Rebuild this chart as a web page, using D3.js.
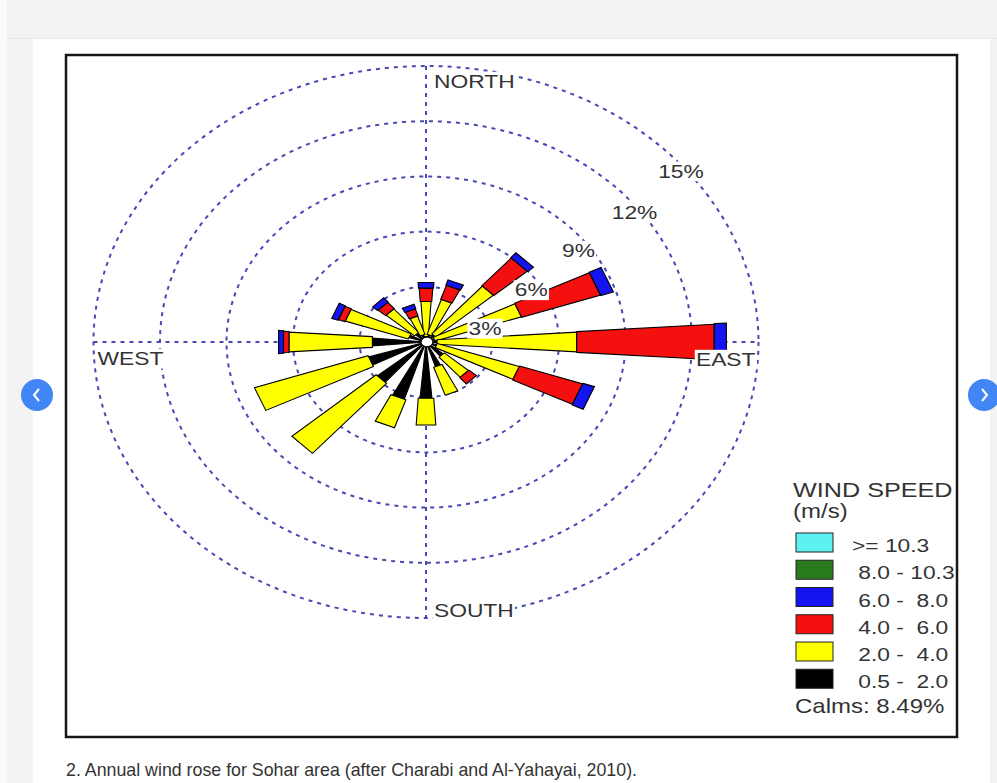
<!DOCTYPE html>
<html lang="en">
<head>
    <title>Annual wind rose - Sohar</title>
    <script src='https://d3js.org/d3.v7.min.js'></script>
    <style>
        body { margin: 0; background: #fff; }
        text { font-family: "Liberation Sans", Arial, sans-serif; white-space: pre; }
    </style>
</head>
<body>
<script>

// 16 compass sectors, clockwise from north
var directions = ["N","NNE","NE","ENE","E","ESE","SE","SSE","S","SSW","SW","WSW","W","WNW","NW","NNW"];

// frequency (%) per sector for each wind speed class (m/s)
var spd05_20  = [0.30, 0.40, 0.50, 0.40, 0.50, 0.50, 1.00, 1.40, 3.06, 3.25, 2.85, 2.70, 2.42, 0.80, 0.60, 0.40];
var spd20_40  = [1.90, 2.00, 3.45, 4.10, 6.30, 3.90, 1.45, 1.60, 1.45, 1.60, 5.05, 5.40, 3.76, 3.00, 1.70, 1.05];
var spd40_60  = [0.73, 0.80, 2.00, 3.75, 6.20, 3.00, 0.45, 0.00, 0.00, 0.00, 0.00, 0.00, 0.25, 0.32, 0.45, 0.40];
var spd60_80  = [0.30, 0.30, 0.35, 0.60, 0.55, 0.55, 0.00, 0.00, 0.00, 0.00, 0.00, 0.00, 0.22, 0.30, 0.30, 0.25];
var spd80_103 = [0, 0, 0, 0, 0, 0, 0, 0, 0, 0, 0, 0, 0, 0, 0, 0];
var spd103up  = [0, 0, 0, 0, 0, 0, 0, 0, 0, 0, 0, 0, 0, 0, 0, 0];

var classLabels = [" 0.5 -  2.0", " 2.0 -  4.0", " 4.0 -  6.0", " 6.0 -  8.0", " 8.0 - 10.3", ">= 10.3"];
var classColors = ["#000000", "#ffff00", "#f51010", "#1414f0", "#2a7a1e", "#5cf2f2"];

var ringTicks = [3, 6, 9, 12, 15];
var calms = 8.49;

// ---------------------------------------------------------------
const W = 997, H = 783;
const cx = 426, cy = 342;

const svg = d3.select("body").append("svg")
    .attr("width", W).attr("height", H);

// page furniture
svg.append("rect").attr("x", 0).attr("y", 0).attr("width", W).attr("height", H).attr("fill", "#fafafa");
svg.append("rect").attr("x", 7).attr("y", 0).attr("width", W - 7).attr("height", 38).attr("fill", "#f2f2f2");
svg.append("rect").attr("x", 7).attr("y", 38).attr("width", 26).attr("height", H - 38).attr("fill", "#f3f3f3");
svg.append("rect").attr("x", 990).attr("y", 38).attr("width", 7).attr("height", H - 38).attr("fill", "#f3f3f3");
svg.append("rect").attr("x", 33).attr("y", 39).attr("width", 957).attr("height", H - 39).attr("fill", "#ffffff");
svg.append("line").attr("x1", 7).attr("x2", W).attr("y1", 38.5).attr("y2", 38.5).attr("stroke", "#e8e8e8");

// chart frame
svg.append("rect").attr("x", 66).attr("y", 55).attr("width", 891).attr("height", 682)
    .attr("fill", "#fff").attr("stroke", "#161616").attr("stroke-width", 2.5);

// the picture is stretched horizontally, so x and y get their own radial scale
const rX = d3.scaleLinear().domain([0, 15]).range([0, 332.5]);
const rY = d3.scaleLinear().domain([0, 15]).range([0, 276]);

// r along the petal axis, w across it, angle in degrees clockwise from north
function pt(r, w, deg) {
    const a = deg * Math.PI / 180;
    const lx = r * Math.sin(a) + w * Math.cos(a);
    const ly = r * Math.cos(a) - w * Math.sin(a);
    return [cx + rX(lx), cy - rY(ly)];
}

const ringColor = "#4848b4";
const g = svg.append("g");

// dotted rings
g.selectAll(".ring").data(ringTicks).enter().append("ellipse")
    .attr("cx", cx).attr("cy", cy)
    .attr("rx", d => rX(d)).attr("ry", d => rY(d))
    .attr("fill", "none").attr("stroke", ringColor)
    .attr("stroke-width", 2).attr("stroke-dasharray", "4,5");

// cross hair
const rMax = d3.max(ringTicks);
g.append("line").attr("x1", cx - rX(rMax)).attr("x2", cx + rX(rMax)).attr("y1", cy).attr("y2", cy)
    .attr("stroke", ringColor).attr("stroke-width", 2).attr("stroke-dasharray", "4,5");
g.append("line").attr("x1", cx).attr("x2", cx).attr("y1", cy - rY(rMax)).attr("y2", cy + rY(rMax))
    .attr("stroke", ringColor).attr("stroke-width", 2).attr("stroke-dasharray", "4,5");

// stack the classes per sector
var rows = directions.map(function(d, i) {
    return { dir: d, c0: spd05_20[i], c1: spd20_40[i], c2: spd40_60[i], c3: spd60_80[i], c4: spd80_103[i], c5: spd103up[i] };
});
var keys = ["c0", "c1", "c2", "c3", "c4", "c5"];
var stacked = d3.stack().keys(keys)(rows);
var angle = d3.scaleBand().domain(directions).range([0, 360]);

var line = d3.line();
var petals = [];
directions.forEach(function(dir, i) {
    var deg = angle(dir);
    var hw = 0;
    keys.forEach(function(k, j) {
        var lo = stacked[j][i][0], hi = stacked[j][i][1];
        if (hi - lo <= 0) return;
        var slope = j === 0 ? 0.088 : 0.065;
        var step = j === 0 ? 0 : (j === 1 ? 0.08 : 0.03);
        var wIn = hw + step;
        var wOut = wIn + (hi - lo) * slope;
        hw = wOut;
        petals.push({ j: j, pts: [pt(lo, -wIn, deg), pt(hi, -wOut, deg), pt(hi, wOut, deg), pt(lo, wIn, deg)] });
    });
});

g.selectAll(".seg").data(petals).enter().append("path")
    .attr("class", "seg")
    .attr("d", d => line(d.pts) + "Z")
    .attr("fill", d => classColors[d.j])
    .attr("stroke", "#000").attr("stroke-width", 1.1).attr("stroke-linejoin", "miter");

// calm circle
g.append("ellipse").attr("cx", cx + 1).attr("cy", cy)
    .attr("rx", rX(0.27)).attr("ry", rY(0.27))
    .attr("fill", "#fff").attr("stroke", "#000").attr("stroke-width", 1.2);

// labels with white boxes, text stretched like the picture
function boxedLabel(x, y, txt, size, anchor) {
    var lg = svg.append("g").attr("transform", "translate(" + x + "," + y + ") scale(1.2,1)");
    var rect = lg.append("rect").attr("fill", "#fff");
    var t = lg.append("text").attr("font-size", size).attr("fill", "#333")
        .attr("text-anchor", anchor || "start").text(txt);
    var bb = t.node().getBBox();
    rect.attr("x", bb.x - 1).attr("y", bb.y + 1).attr("width", bb.width + 2).attr("height", bb.height - 1);
}

// ring labels sit up and to the right of the centre
var labelAngle = [74, 59, 54, 53, 51];
var labelInset = [0.23, 0.46, 0.5, 0.22, 0.2];
ringTicks.forEach(function(v, i) {
    var p = pt(v - labelInset[i], 0, labelAngle[i]);
    boxedLabel(p[0], p[1] + 7, v + "%", 19, "middle");
});

boxedLabel(cx + 8, cy - rY(rMax) + 22, "NORTH", 19, "start");
boxedLabel(cx + 8, cy + rY(rMax) - 1, "SOUTH", 19, "start");
boxedLabel(cx - rX(rMax) + 4, cy + 23, "WEST", 19, "start");
boxedLabel(cx + rX(rMax) - 3, cy + 24, "EAST", 19, "end");

// legend
function stretchText(x, y, txt, size) {
    return svg.append("text").attr("transform", "translate(" + x + "," + y + ") scale(1.2,1)")
        .attr("font-size", size).attr("fill", "#333").text(txt);
}
stretchText(793, 497, "WIND SPEED", 21);
stretchText(793, 518, "(m/s)", 20);

var legendOrder = d3.range(keys.length).reverse();
var ly = d3.scaleBand().domain(legendOrder).range([533, 533 + 6 * 27.25]);
svg.selectAll(".sw").data(legendOrder).enter().append("rect")
    .attr("x", 796).attr("y", d => ly(d)).attr("width", 37).attr("height", 19)
    .attr("fill", d => classColors[d]).attr("stroke", "#222").attr("stroke-width", 1);
legendOrder.forEach(function(d) {
    stretchText(852, ly(d) + 19, classLabels[d], 19);
});
stretchText(795, 713, "Calms: " + calms + "%", 20);

// caption
svg.append("text").attr("x", 66).attr("y", 776).attr("font-size", 17.8).attr("fill", "#333")
    .text("2. Annual wind rose for Sohar area (after Charabi and Al-Yahayai, 2010).");

// carousel buttons
[[37, "<"], [984, ">"]].forEach(function(b) {
    svg.append("circle").attr("cx", b[0]).attr("cy", 395).attr("r", 16).attr("fill", "#4285f4");
    var s = b[1] === "<" ? 1 : -1;
    svg.append("polyline")
        .attr("points", [[b[0] + 2 * s, 389], [b[0] - 3 * s, 395], [b[0] + 2 * s, 401]].join(" "))
        .attr("fill", "none").attr("stroke", "#fff").attr("stroke-width", 2);
});

</script>
</body>
</html>
